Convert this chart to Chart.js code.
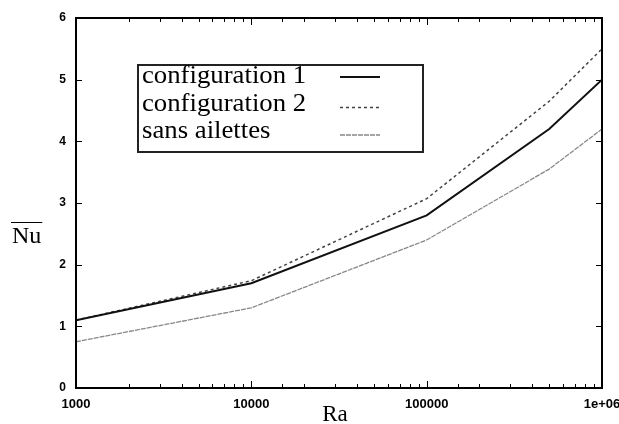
<!DOCTYPE html>
<html>
<head>
<meta charset="utf-8">
<script src="https://cdn.jsdelivr.net/npm/chart.js@4/dist/chart.umd.min.js"></script>
<style>
  html, body { margin: 0; padding: 0; background: #fff; }
  #wrap { width: 619px; height: 424px; }
</style>
</head>
<body>
<div id="wrap"><canvas id="nuChart" width="619" height="424"></canvas></div>
<script>
// Ra values (log axis) and Nu for each case
const raValues = [1000, 10000, 100000, 500000, 1000000];
const config1 = [1.1, 1.7, 2.8, 4.2, 5.0];
const config2 = [1.1, 1.74, 3.07, 4.65, 5.5];
const sansAilettes = [0.75, 1.3, 2.4, 3.55, 4.2];
const seriesLabels = ['configuration 1', 'configuration 2', 'sans ailettes'];
const yTicks = [0, 1, 2, 3, 4, 5, 6];

const toPoints = (ys) => raValues.map((x, i) => ({ x: x, y: ys[i] }));
const isPow10 = (v) => {
	const lg = Math.log10(v);
	return Math.abs(lg - Math.round(lg)) < 1e-9;
};

// inward ticks on all four sides + frame
const frameTicks = {
	id: 'frameTicks',
	afterDraw(chart) {
		const { ctx, chartArea: a, scales } = chart;
		ctx.save();
		ctx.strokeStyle = '#000';
		ctx.lineWidth = 1;
		scales.x.ticks.forEach((t) => {
			const px = Math.round(scales.x.getPixelForValue(t.value)) + 0.5;
			const len = isPow10(t.value) ? 7 : 4;
			ctx.beginPath();
			ctx.moveTo(px, a.bottom);
			ctx.lineTo(px, a.bottom - len);
			ctx.moveTo(px, a.top);
			ctx.lineTo(px, a.top + len);
			ctx.stroke();
		});
		scales.y.ticks.forEach((t) => {
			const py = Math.round(scales.y.getPixelForValue(t.value)) + 0.5;
			ctx.beginPath();
			ctx.moveTo(a.left, py);
			ctx.lineTo(a.left + 6, py);
			ctx.moveTo(a.right, py);
			ctx.lineTo(a.right - 6, py);
			ctx.stroke();
		});
		ctx.lineWidth = 2;
		ctx.strokeRect(a.left, a.top, a.right - a.left, a.bottom - a.top);

		// axis titles
		ctx.fillStyle = '#000';
		ctx.font = '24px "Liberation Serif", serif';
		ctx.textAlign = 'left';
		ctx.textBaseline = 'alphabetic';
		ctx.fillText('Nu', 12, 243);
		const w = ctx.measureText('Nu').width;
		ctx.lineWidth = 1;
		ctx.beginPath();
		ctx.moveTo(11, 222.5);
		ctx.lineTo(13 + w, 222.5);
		ctx.stroke();
		ctx.font = '23px "Liberation Serif", serif';
		ctx.textAlign = 'center';
		ctx.fillText('Ra', 335, 421);
		ctx.restore();
	},
};

// boxed legend with text left, line sample right
const boxLegend = {
	id: 'boxLegend',
	afterDraw(chart) {
		const { ctx } = chart;
		const bx = 138, by = 65, bw = 285, bh = 87;
		ctx.save();
		ctx.fillStyle = '#fff';
		ctx.fillRect(bx, by, bw, bh);
		ctx.strokeStyle = '#222';
		ctx.lineWidth = 2;
		ctx.strokeRect(bx, by, bw, bh);
		ctx.textAlign = 'left';
		ctx.textBaseline = 'alphabetic';
		chart.data.datasets.forEach((ds, i) => {
			const base = 83 + i * 27.5;
			ctx.save();
			ctx.translate(142, base);
			ctx.scale(1.07, 1);
			ctx.font = '25px "Liberation Serif", serif';
			ctx.fillStyle = '#000';
			ctx.fillText(ds.label, 0, 0);
			ctx.restore();
			ctx.strokeStyle = ds.borderColor;
			ctx.lineWidth = ds.borderWidth;
			ctx.setLineDash(ds.borderDash || []);
			ctx.beginPath();
			const ly = i === 0 ? 77 : base - 3;
			ctx.moveTo(340, ly);
			ctx.lineTo(380, ly);
			ctx.stroke();
			ctx.setLineDash([]);
		});
		ctx.restore();
	},
};

new Chart(document.getElementById('nuChart'), {
	type: 'line',
	data: {
		datasets: [
			{
				label: seriesLabels[0],
				data: toPoints(config1),
				borderColor: '#111',
				borderWidth: 2,
				borderDash: [],
			},
			{
				label: seriesLabels[1],
				data: toPoints(config2),
				borderColor: '#444',
				borderWidth: 1.5,
				borderDash: [3, 3],
			},
			{
				label: seriesLabels[2],
				data: toPoints(sansAilettes),
				borderColor: '#888',
				borderWidth: 1.3,
				borderDash: [5, 1],
			},
		],
	},
	options: {
		responsive: false,
		animation: false,
		layout: { padding: { top: 18, right: 17, left: 0, bottom: 0 } },
		elements: {
			point: { radius: 0 },
			line: { tension: 0 },
		},
		plugins: {
			legend: { display: false },
			tooltip: { enabled: false },
		},
		scales: {
			x: {
				type: 'logarithmic',
				min: raValues[0],
				max: raValues[raValues.length - 1],
				grid: { display: false, drawTicks: false },
				border: { display: false },
				afterFit: (scale) => {
					scale.height = 36;
					scale.paddingLeft = 0;
					scale.paddingRight = 0;
				},
				ticks: {
					autoSkip: false,
					maxRotation: 0,
					padding: 9,
					color: '#000',
					font: { family: 'Arial, "Liberation Sans", sans-serif', size: 13, weight: 'bold' },
					callback: (v) => {
						if (!isPow10(v)) return '';
						return v >= 1000000 ? '1e+06' : String(v);
					},
				},
			},
			y: {
				min: yTicks[0],
				max: yTicks[yTicks.length - 1],
				grid: { display: false, drawTicks: false },
				border: { display: false },
				afterFit: (scale) => {
					scale.width = 76;
					scale.paddingTop = 0;
					scale.paddingBottom = 0;
				},
				ticks: {
					stepSize: 1,
					padding: 10,
					color: '#000',
					font: { family: 'Arial, "Liberation Sans", sans-serif', size: 12, weight: 'bold' },
				},
			},
		},
	},
	plugins: [frameTicks, boxLegend],
});
</script>
</body>
</html>
